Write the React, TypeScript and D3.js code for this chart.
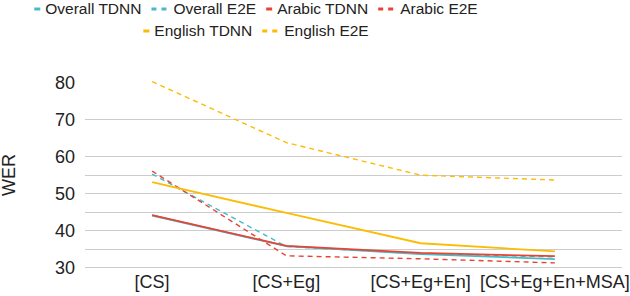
import React, { useEffect, useRef } from 'react';
import * as d3 from 'd3';

const categories = ['[CS]', '[CS+Eg]', '[CS+Eg+En]', '[CS+Eg+En+MSA]'];

const overallTdnn = [44.0, 35.7, 33.6, 32.2];
const overallE2e = [55.2, 35.6, 33.7, 32.8];
const arabicTdnn = [44.1, 35.8, 33.9, 33.0];
const arabicE2e = [56.0, 33.1, 32.3, 31.2];
const englishTdnn = [53.0, 44.7, 36.5, 34.3];
const englishE2e = [80.2, 63.7, 54.9, 53.6];

const seriesNames = ['Overall TDNN', 'Overall E2E', 'Arabic TDNN', 'Arabic E2E', 'English TDNN', 'English E2E'];
const yTicks = [30, 40, 50, 60, 70, 80];
const gridValues = [30, 35, 40, 45, 50, 55, 60, 70];

const CYAN = '#46bdc6';
const RED = '#ea4335';
const YELLOW = '#fbbc04';
const FONT = '"Liberation Sans", Arial, sans-serif';

const series = [
  { name: seriesNames[0], values: overallTdnn, color: CYAN, dashed: false },
  { name: seriesNames[1], values: overallE2e, color: CYAN, dashed: true },
  { name: seriesNames[2], values: arabicTdnn, color: RED, dashed: false },
  { name: seriesNames[3], values: arabicE2e, color: RED, dashed: true },
  { name: seriesNames[4], values: englishTdnn, color: YELLOW, dashed: false },
  { name: seriesNames[5], values: englishE2e, color: YELLOW, dashed: true },
];

const W = 630;
const H = 296;

export default function App() {
  const svgRef = useRef<SVGSVGElement>(null);

  useEffect(() => {
    const svg = d3.select(svgRef.current);
    svg.selectAll('*').remove();

    const x = d3.scaleBand().domain(categories).range([85, 622]);
    const cx = (c: string) => (x(c) as number) + x.bandwidth() / 2;
    const y = d3.scaleLinear().domain([30, 80]).range([267.3, 82.3]);

    // gridlines
    svg.append('g')
      .selectAll('line')
      .data(gridValues)
      .enter()
      .append('line')
      .attr('x1', 85)
      .attr('x2', 622)
      .attr('y1', d => Math.round(y(d)) + 0.5)
      .attr('y2', d => Math.round(y(d)) + 0.5)
      .attr('stroke', '#cccccc')
      .attr('stroke-width', 1);

    // y tick labels
    svg.append('g')
      .selectAll('text')
      .data(yTicks)
      .enter()
      .append('text')
      .attr('x', 75)
      .attr('y', d => y(d))
      .attr('dy', '0.35em')
      .attr('text-anchor', 'end')
      .attr('font-family', FONT)
      .attr('font-size', 18)
      .attr('fill', '#222')
      .text(d => d);

    // y title
    svg.append('text')
      .attr('transform', 'translate(15,175) rotate(-90)')
      .attr('text-anchor', 'middle')
      .attr('font-family', FONT)
      .attr('font-size', 18)
      .attr('fill', '#222')
      .text('WER');

    // x labels
    svg.append('g')
      .selectAll('text')
      .data(categories)
      .enter()
      .append('text')
      .attr('x', d => cx(d))
      .attr('y', 288)
      .attr('text-anchor', 'middle')
      .attr('font-family', FONT)
      .attr('font-size', 18)
      .attr('fill', '#222')
      .text(d => d);

    // lines
    const line = d3.line<number>()
      .x((_, i) => cx(categories[i]))
      .y(d => y(d));

    svg.append('g')
      .selectAll('path')
      .data(series)
      .enter()
      .append('path')
      .attr('d', d => line(d.values))
      .attr('fill', 'none')
      .attr('stroke', d => d.color)
      .attr('stroke-width', d => (d.dashed ? 1.4 : 1.8))
      .attr('stroke-dasharray', d => (d.dashed ? '5,4' : null));

    // legend
    const rows = [series.slice(0, 4), series.slice(4)];
    const rowY = [9, 31];
    const legendCenter = 256;
    rows.forEach((items, r) => {
      const g = svg.append('g');
      let pos = 0;
      items.forEach((s, i) => {
        if (i > 0) pos += 10;
        if (s.dashed) {
          g.append('line')
            .attr('x1', pos).attr('x2', pos + 5)
            .attr('y1', rowY[r]).attr('y2', rowY[r])
            .attr('stroke', s.color).attr('stroke-width', 3);
          g.append('line')
            .attr('x1', pos + 10).attr('x2', pos + 15)
            .attr('y1', rowY[r]).attr('y2', rowY[r])
            .attr('stroke', s.color).attr('stroke-width', 3);
          pos += 22;
        } else {
          g.append('line')
            .attr('x1', pos).attr('x2', pos + 6)
            .attr('y1', rowY[r]).attr('y2', rowY[r])
            .attr('stroke', s.color).attr('stroke-width', 3);
          pos += 11;
        }
        const t = g.append('text')
          .attr('x', pos)
          .attr('y', rowY[r])
          .attr('dy', '0.35em')
          .attr('font-family', FONT)
          .attr('font-size', 15.5)
          .attr('fill', '#222')
          .text(s.name);
        pos += (t.node() as SVGTextElement).getComputedTextLength();
      });
      g.attr('transform', `translate(${legendCenter - pos / 2},0)`);
    });
  }, []);

  return (
    <svg
      ref={svgRef}
      width={W}
      height={H}
      style={{ position: 'absolute', left: 0, top: 0, background: '#fff' }}
    />
  );
}
